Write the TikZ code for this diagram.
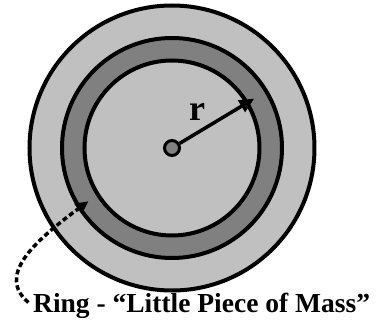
\documentclass[tikz,border=0pt]{standalone}
\usepackage{fontspec}
\setmainfont{Liberation Serif}
\usetikzlibrary{arrows.meta}
\definecolor{disklight}{RGB}{192,192,192}
\definecolor{diskdark}{RGB}{128,128,128}
\tikzset{
	ringline/.style={line width=4pt, draw=black},
	bigfont/.style={font=\bfseries\fontsize{27.5}{30}\selectfont, inner sep=0pt},
}
\begin{document}
\begin{tikzpicture}[x=1pt,y=1pt]
	\useasboundingbox (-172,-173) rectangle (206,148);
	\pgfmathsetmacro{\rin}{87.5}
	\pgfmathsetmacro{\rout}{110}
	\foreach \rr/\cc in {142.5/disklight,\rout/diskdark,\rin/disklight}{
		\draw[ringline, fill=\cc] (0,0) circle (\rr);}
	\node[circle, fill=diskdark, draw, line width=3pt, minimum size=15pt, inner sep=0pt] (hub) at (0,0) {};
	\coordinate (rtip) at (31:96);
	\draw[line width=3.5pt, -{Triangle[length=15pt,width=13pt]}] (hub) -- (rtip);
	\node[bigfont, font=\bfseries\fontsize{36}{38}\selectfont] (rlabel) at (25,36) {r};
	% label for the ring
	\node[bigfont, anchor=base west] (ringlabel) at (-139,-165) {Ring - ``Little Piece of Mass''};
	\coordinate (ringpt) at (212.5:99);
	\draw[line width=3.5pt, dash pattern=on 5pt off 3pt, shorten <=6pt, -{Triangle[length=13pt,width=12pt]}]
		(ringlabel.west) .. controls (-175,-128) and (-140,-95) .. (ringpt);
\end{tikzpicture}
\end{document}
